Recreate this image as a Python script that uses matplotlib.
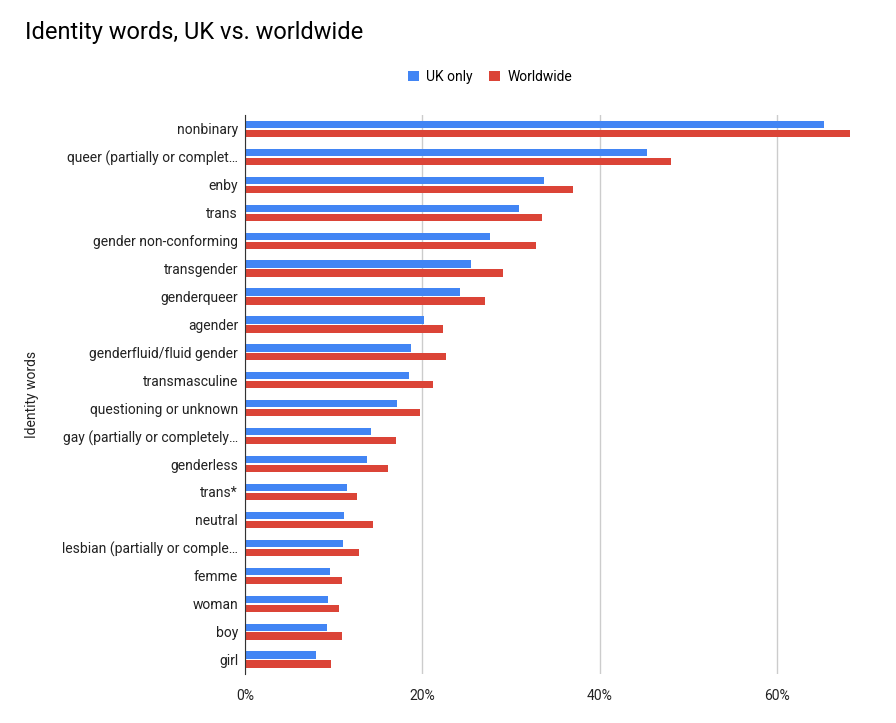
import numpy as np
import matplotlib.pyplot as plt
from matplotlib.ticker import FuncFormatter

plt.rcParams['font.family'] = ['Roboto', 'DejaVu Sans']

categories = ["nonbinary", "queer (partially or complet\u2026", "enby", "trans",
              "gender non-conforming", "transgender", "genderqueer", "agender",
              "genderfluid/fluid gender", "transmasculine", "questioning or unknown",
              "gay (partially or completely\u2026", "genderless", "trans*", "neutral",
              "lesbian (partially or comple\u2026", "femme", "woman", "boy", "girl"]
uk_only = [65.2, 45.3, 33.7, 30.9, 27.6, 25.5, 24.2, 20.2, 18.7, 18.5,
           17.1, 14.2, 13.7, 11.5, 11.2, 11.0, 9.6, 9.3, 9.2, 8.0]
worldwide = [68.2, 48.0, 37.0, 33.5, 32.8, 29.1, 27.1, 22.3, 22.6, 21.2,
             19.7, 17.0, 16.1, 12.6, 14.4, 12.8, 10.9, 10.6, 10.9, 9.7]

fig = plt.figure(figsize=(8.96, 7.23), dpi=100)
ax = fig.add_axes([245/896, (723-673.5)/723, (852-245)/896, 558.5/723])

y = np.arange(len(categories))
h = 0.26
ax.barh(y - 0.16, uk_only, height=h, color='#4285f4', label='UK only')
ax.barh(y + 0.16, worldwide, height=h, color='#db4437', label='Worldwide')

ax.set_ylim(len(categories) - 0.5, -0.5)
ax.set_xlim(0, 68.4)
ax.set_yticks(y)
ax.set_yticklabels(categories, fontsize=10, color='#222222')
ax.set_xticks([0, 20, 40, 60])
ax.xaxis.set_major_formatter(FuncFormatter(lambda v, p: f"{v:.0f}%"))
ax.tick_params(axis='x', labelsize=10, colors='#222222', length=0, pad=11)
ax.tick_params(axis='y', length=0, pad=5)
ax.grid(axis='x', color='#cccccc', linewidth=1)
ax.set_axisbelow(True)
for s in ['top', 'right', 'bottom']:
    ax.spines[s].set_visible(False)
ax.spines['left'].set_color('#333333')
ax.set_ylabel('Identity words', fontsize=10, color='#222222')
ax.yaxis.set_label_coords(-206/607, 0.5)

fig.text(25/896, 1 - 33/723, 'Identity words, UK vs. worldwide', fontsize=17,
         color='#000000', va='center')
fig.legend(loc='center', bbox_to_anchor=(490/896, 1 - 77/723), ncol=2, frameon=False,
           fontsize=10, handlelength=0.8, handleheight=0.8, columnspacing=1.2,
           handletextpad=0.5)

fig.savefig('out.png', dpi=100)
